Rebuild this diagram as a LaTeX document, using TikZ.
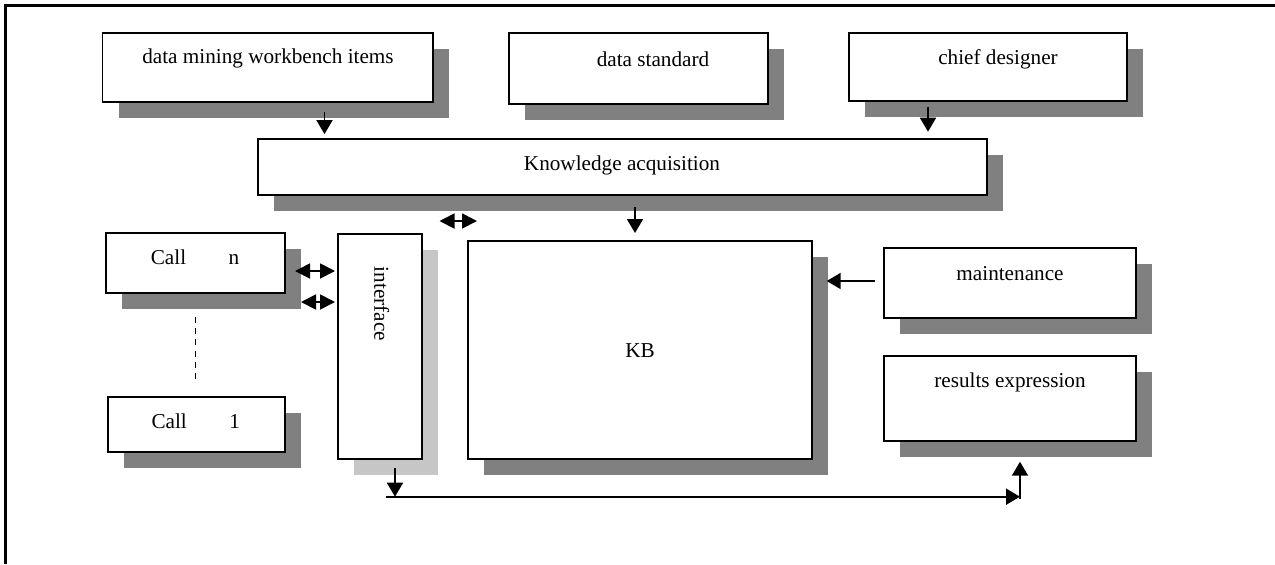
\documentclass[tikz,border=0pt]{standalone}
\usepackage{fontspec}
\setmainfont{Liberation Serif}
\usetikzlibrary{arrows.meta,shadows}
\definecolor{shadowdark}{HTML}{808080}
\definecolor{shadowlight}{HTML}{C6C6C6}
\begin{document}
\begin{tikzpicture}[x=0.5pt,y=-0.5pt,
  panel/.style={draw, line width=0.9pt, fill=white, anchor=north west,
    inner sep=0pt, outer sep=0pt,
    drop shadow={shadow xshift=8pt, shadow yshift=-8pt, fill=#1, opacity=1}},
  panel/.default=shadowdark,
  lbl/.style={font=\fontsize{10.6}{12.7}\selectfont, inner sep=0pt},
  tip/.style={Triangle[length=7pt,width=8pt]},
  arr/.style={line width=0.9pt, -{Triangle[length=7pt,width=8pt]}},
  darr/.style={line width=0.9pt, {Triangle[length=7.5pt,width=7.5pt]}-{Triangle[length=7.5pt,width=7.5pt]}}]
\useasboundingbox (0,0) rectangle (1275,564);

% frame (top and left edges)
\draw[line width=1.2pt] (1275,5.5) -- (5.5,5.5) -- (5.5,564);

% top row: sources
\node[panel, minimum width=165.25pt, minimum height=34.65pt] (dm) at (102.5,32.7) {};
\node[lbl] (dm-t) at (268,58) {data mining workbench items};
\node[panel, minimum width=129.5pt, minimum height=35.65pt] (ds) at (508.6,32.7) {};
\node[lbl] (ds-t) at (653,59.5) {data standard};
\node[panel, minimum width=139pt, minimum height=34.3pt] (cd) at (849,32.7) {};
\node[lbl] (cd-t) at (998,59) {chief designer};

% knowledge acquisition
\node[panel, minimum width=364.3pt, minimum height=27.85pt] (ka) at (258,139.3) {};
\node[lbl] (ka-t) at (622,165) {Knowledge acquisition};

% calls
\node[panel, minimum width=89.35pt, minimum height=30pt] (calln) at (106,233) {};
\node[lbl] (calln-t) at (195,257.5) {Call\hspace{21.2pt}n};
\node[panel, minimum width=88.5pt, minimum height=27.65pt] (call1) at (107.7,396.7) {};
\node[lbl] (call1-t) at (195.8,421.5) {Call\hspace{21.3pt}1};

% interface
\node[panel=shadowlight, minimum width=42.3pt, minimum height=112.35pt] (intf) at (337.7,234.3) {};
\node[lbl, rotate=-90] (intf-t) at (381.7,304) {interface};

% knowledge base
\node[panel, minimum width=172.3pt, minimum height=109.15pt] (kb) at (467.7,240.7) {};
\node[lbl] (kb-t) at (640,351) {KB};

% maintenance and results
\node[panel, minimum width=126.3pt, minimum height=35pt] (mt) at (883.7,248) {};
\node[lbl] (mt-t) at (1010,273.5) {maintenance};
\node[panel, minimum width=126.3pt, minimum height=42.35pt] (re) at (883.7,356) {};
\node[lbl] (re-t) at (1010,382) {results expression};

% helper coordinates for connector positions
\coordinate (xdm) at (324.5,0);
\coordinate (xcd) at (928,0);
\coordinate (xkb) at (635,0);
\coordinate (ymt) at (0,281);
\coordinate (yc1) at (0,271);
\coordinate (yc2) at (0,302);
\coordinate (xif) at (395,0);
\coordinate (ki-l) at (439.5,221);
\coordinate (ki-r) at (477,221);
\coordinate (bus-l) at (385.7,496.7);
\coordinate (bus-r) at (1020,496.7);

% connectors
\draw[arr, shorten <=5pt, shorten >=2.6pt] (dm.south -| xdm) -- (ka.north -| xdm);
\draw[arr, shorten <=2.7pt, shorten >=3.8pt] (cd.south -| xcd) -- (ka.north -| xcd);
\draw[arr, shorten <=6pt, shorten >=3.85pt] (ka.south -| xkb) -- (kb.north -| xkb);
\draw[arr, shorten <=4.35pt, shorten >=7.2pt] (mt.west |- ymt) -- (kb.east |- ymt);
\draw[darr] (ki-l) -- (ki-r);
\draw[darr, shorten <=5.15pt, shorten >=1.35pt] (calln.east |- yc1) -- (intf.west |- yc1);
\draw[darr, shorten <=8.15pt, shorten >=1.35pt] (calln.east |- yc2) -- (intf.west |- yc2);
\draw[line width=0.8pt, dash pattern=on 3pt off 2.6pt, shorten <=12pt, shorten >=8.35pt]
  (calln.south) -- (calln.south |- call1.north);
\draw[arr, shorten <=4.5pt] (intf.south -| xif) -- (bus-l -| xif);
\draw[arr] (bus-l) -- (bus-r);
\draw[arr, shorten >=10.5pt] ([yshift=-1.15pt]bus-r) -- (re.south -| bus-r);
\end{tikzpicture}
\end{document}
